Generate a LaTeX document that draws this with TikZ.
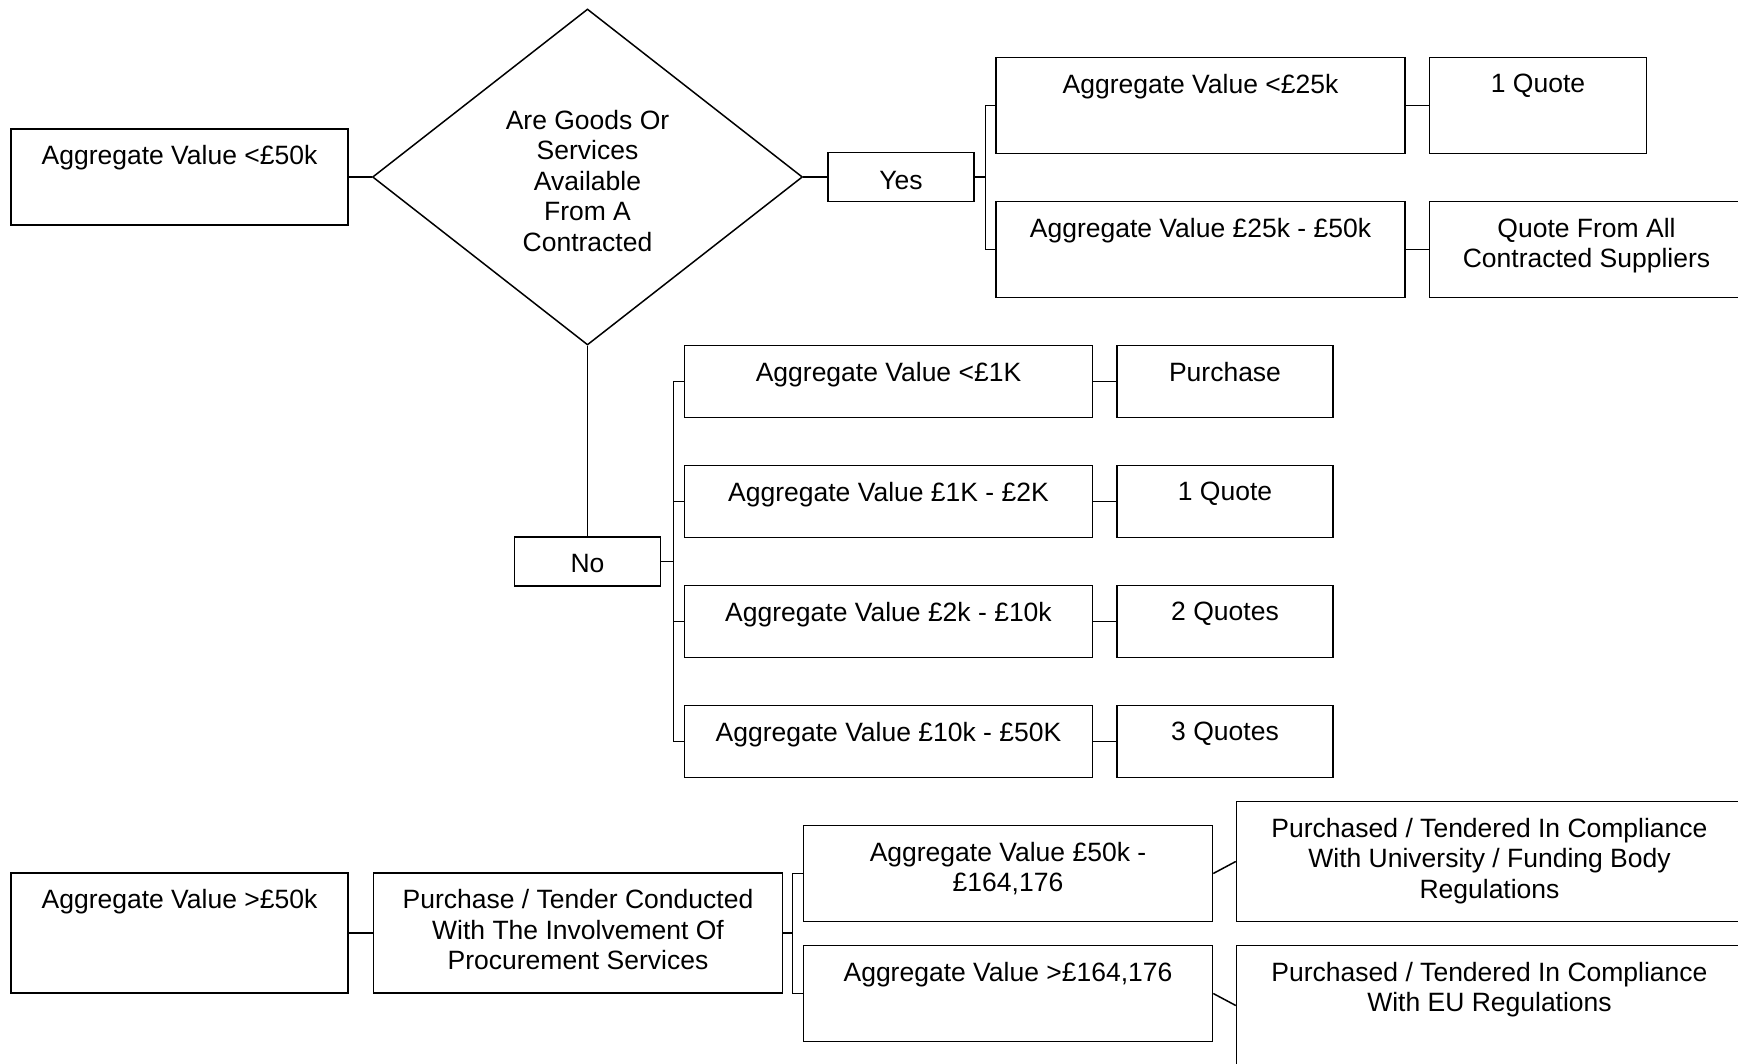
\documentclass[tikz,border=0pt]{standalone}
\usepackage{fontspec}
\setmainfont{Liberation Sans}
\usetikzlibrary{shapes.geometric,positioning}
\newcommand\BoxFont{\fontsize{26.5}{30.5}\selectfont}

\begin{document}
\begin{tikzpicture}[x=1pt,y=-1pt,
	box/.style={draw, line width=1.5pt, inner sep=0pt},
	tag/.style={anchor=north, yshift=-17pt, inner sep=0pt, align=center, font=\BoxFont},
	link/.style={line width=1.5pt},
	big/.style={box, minimum width=409pt, minimum height=96pt},
	row/.style={box, minimum width=408pt, minimum height=72pt},
	ans/.style={box, minimum width=216pt, minimum height=72pt},
	yn/.style={box, minimum width=146pt, minimum height=49pt}]
	\useasboundingbox (0,0) rectangle (1738,1064);
	\clip (0,0) rectangle (1738,1064);

	% under 50k: contracted supplier check
	\node[box, minimum width=337pt, minimum height=96pt, label={[tag]north:Aggregate Value <£50k}] (lt50) at (179.5,177) {};
	\node[box, diamond, minimum width=430pt, minimum height=336pt, label={[tag, anchor=center, yshift=13pt]center:{Are Goods Or\\Services\\Available\\From A\\Contracted}}] (chk) at (587.5,177) {};
	\node[yn, label={[tag, yshift=-2pt]north:Yes}] (yes) at (901,177) {};
	\node[yn, label={[tag, yshift=-1pt]north:No}] (no) at (587.5,561.5) {};

	% yes branch
	\coordinate (ybr) at (985.5,177);
	\node[big, label={[tag]north:Aggregate Value <£25k}] (v25) at (1200.5,105.5) {};
	\node[box, minimum width=217pt, minimum height=96pt, right=23pt of v25, label={[tag]north:1 Quote}] (q1) {};
	\node[big, label={[tag]north:Aggregate Value £25k - £50k}] (v50) at (1200.5,249.5) {};
	\node[box, minimum width=314pt, minimum height=96pt, right=23pt of v50, label={[tag]north:{Quote From All\\Contracted Suppliers}}] (qall) {};

	% no branch
	\coordinate (nbr) at (673.5,561.5);
	\node[row, label={[tag]north:Aggregate Value <£1K}] (n1) at (888.5,381.5) {};
	\node[row, label={[tag]north:Aggregate Value £1K - £2K}] (n2) at (888.5,501.5) {};
	\node[row, label={[tag]north:Aggregate Value £2k - £10k}] (n3) at (888.5,621.5) {};
	\node[row, label={[tag]north:Aggregate Value £10k - £50K}] (n4) at (888.5,741.5) {};
	\node[ans, right=23pt of n1, label={[tag]north:Purchase}] (a1) {};
	\node[ans, right=23pt of n2, label={[tag]north:1 Quote}] (a2) {};
	\node[ans, right=23pt of n3, label={[tag]north:2 Quotes}] (a3) {};
	\node[ans, right=23pt of n4, label={[tag]north:3 Quotes}] (a4) {};

	% over 50k
	\node[box, minimum width=337pt, minimum height=120pt, label={[tag]north:Aggregate Value >£50k}] (gt50) at (179.5,933) {};
	\node[box, minimum width=409pt, minimum height=120pt, right=24pt of gt50, label={[tag]north:{Purchase / Tender Conducted\\With The Involvement Of\\Procurement Services}}] (proc) {};
	\coordinate (pbr) at (792.5,933);
	\node[big, label={[tag]north:{Aggregate Value £50k -\\£164,176}}] (b1) at (1008,873.5) {};
	\node[big, label={[tag]north:{Aggregate Value >£164,176}}] (b2) at (1008,993.5) {};
	\node[box, minimum width=506pt, minimum height=120pt, label={[tag]north:{Purchased / Tendered In Compliance\\With University / Funding Body\\Regulations}}] (r1) at (1489.5,861.5) {};
	\node[box, minimum width=506pt, minimum height=120pt, label={[tag]north:{Purchased / Tendered In Compliance\\With EU Regulations}}] (r2) at (1489.5,1005.5) {};

	\draw[link] (lt50.east) -- (chk.west);
	\draw[link] (chk.east) -- (yes.west);
	\draw[link] (chk.south) -- (no.north);
	\draw[link] (yes.east) -- (ybr);
	\draw[link] (ybr) |- (v25.west);
	\draw[link] (ybr) |- (v50.west);
	\draw[link] (v25.east) -- (q1.west);
	\draw[link] (v50.east) -- (qall.west);
	\draw[link] (no.east) -- (nbr);
	\draw[link] (nbr) |- (n1.west);
	\draw[link] (nbr) |- (n2.west);
	\draw[link] (nbr) |- (n3.west);
	\draw[link] (nbr) |- (n4.west);
	\draw[link] (n1.east) -- (a1.west);
	\draw[link] (n2.east) -- (a2.west);
	\draw[link] (n3.east) -- (a3.west);
	\draw[link] (n4.east) -- (a4.west);
	\draw[link] (gt50.east) -- (proc.west);
	\draw[link] (proc.east) -- (pbr);
	\draw[link] (pbr) |- (b1.west);
	\draw[link] (pbr) |- (b2.west);
	\draw[link] (b1.east) -- (r1.west);
	\draw[link] (b2.east) -- (r2.west);
\end{tikzpicture}
\end{document}
